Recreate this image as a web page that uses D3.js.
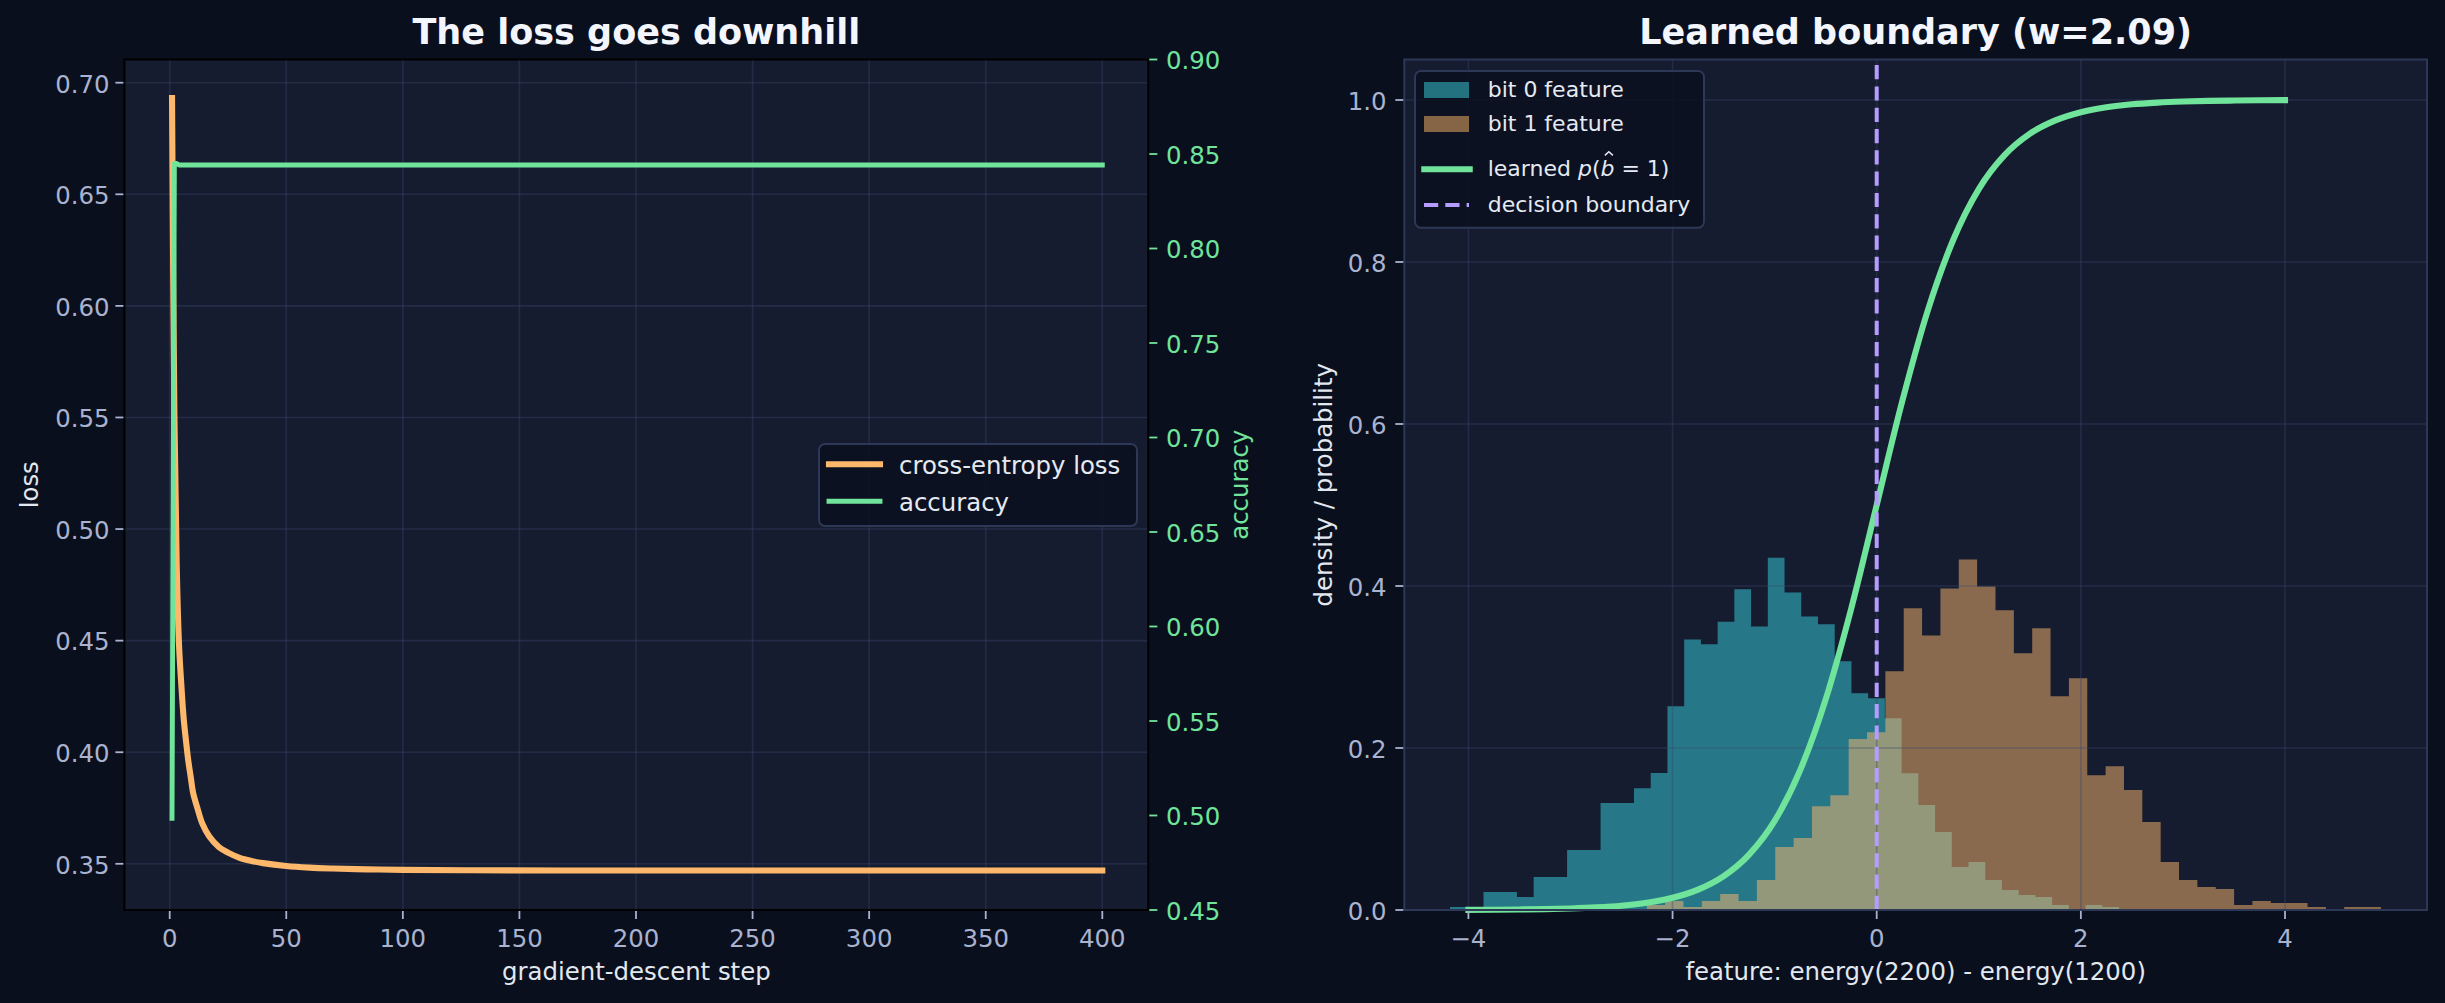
<!DOCTYPE html>
<html><head><meta charset="utf-8">
<script src="https://cdn.jsdelivr.net/npm/d3@7"></script>
<style>
html,body{margin:0;padding:0;background:#0a0f1e;}
svg{display:block;font-family:"DejaVu Sans",sans-serif;}
</style></head><body>
<svg id="chart" width="2445" height="1003"></svg>
<script>
// ---------------- data ----------------
const lossSteps  = [1,2,3,4,5,6,7,8,9,10,12,14,17,21,25,30,35,40,50,60,70,85,100,130,170,220,300,400];
const lossValues = [0.6931,0.552,0.484,0.448,0.430,0.415,0.405,0.396,0.389,0.382,0.3745,0.3680,0.3622,0.3576,0.3550,0.3527,0.3513,0.3503,0.3490,0.3483,0.3479,0.3475,0.3473,0.3471,0.3470,0.3470,0.3470,0.3470];
const accSteps  = [1,2,3,4,400];
const accValues = [0.4985,0.8450,0.8450,0.8442,0.8442];
const stepTicks = [0,50,100,150,200,250,300,350,400];
const lossTicks = [0.35,0.40,0.45,0.50,0.55,0.60,0.65,0.70];
const accTicks  = [0.45,0.50,0.55,0.60,0.65,0.70,0.75,0.80,0.85,0.90];

const bit0Start = -4.18, bit0Width = 0.16385;
const bit0Density = [0.0037,0,0.0222,0.0222,0.016,0.0407,0.0407,0.074,0.074,0.132,
  0.132,0.1504,0.169,0.2515,0.334,0.328,0.356,0.396,0.350,0.435,
  0.392,0.3625,0.3527,0.307,0.2676,0.2614,0.2367,0.1689,0.1295,0.0962,
  0.053,0.0592,0.037,0.0247,0.0185,0.016,0.0062,0,0.0062,0.0037];
const bit1Start = -2.2525, bit1Width = 0.1798;
const bit1Density = [0.0062,0.0111,0.0037,0.0111,0.0197,0.0111,0.037,0.0777,0.0888,0.128,
  0.1418,0.211,0.2195,0.2947,0.3724,0.339,0.397,0.4328,0.3995,0.37,
  0.3169,0.3477,0.2639,0.286,0.1665,0.1776,0.148,0.1085,0.0592,0.037,
  0.0284,0.0259,0.0062,0.0111,0.0086,0.0086,0.0037,0,0.0037,0.0037];
const sigmoidX = [-4,-3.75,-3.5,-3.25,-3,-2.75,-2.5,-2.25,-2,-1.75,-1.5,-1.25,-1,-0.75,-0.5,-0.25,0,
  0.25,0.5,0.75,1,1.25,1.5,1.75,2,2.25,2.5,2.75,3,3.25,3.5,3.75,4];
const sigmoidP = [0.0002,0.0004,0.0007,0.0011,0.0019,0.0032,0.0053,0.0090,0.0151,0.0252,0.0417,0.0684,0.110,0.1726,0.260,0.372,0.5,
  0.628,0.740,0.8274,0.890,0.9316,0.9583,0.9748,0.9849,0.9910,0.9947,0.9968,0.9981,0.9989,0.9993,0.9996,0.9998];
const boundaryX = 0;
const featureTicks = [-4,-2,0,2,4];
const densityTicks = [0,0.2,0.4,0.6,0.8,1.0];

// ---------------- style ----------------
const C = {
  fig:"#0a0f1e", ax:"#151c30", grid:"rgba(58,72,108,0.38)", tick:"#a9b3cf", label:"#e2e8f0",
  title:"#f3f6fc", loss:"#fdb86c", acc:"#70e49a", teal:"#38d4e0", brown:"#ffb86c",
  purple:"#b59cff", legBg:"#0a0f1e", legEdge:"#2d3856", spineR:"#2d3856"
};
const FS = 24.4, FSL = 22, FST = 35;

const svg = d3.select("#chart");
svg.append("rect").attr("width",2445).attr("height",1003).attr("fill",C.fig);

// ================= LEFT PANEL =================
const L = {x0:124.4, x1:1148.3, y0:59.5, y1:910};
const xL = d3.scaleLinear([-19.43, 419.73],[L.x0,L.x1]);
const yL = d3.scaleLinear([0.3293, 0.7104],[L.y1,L.y0]);
const yA = d3.scaleLinear([0.45, 0.90],[L.y1,L.y0]);

const gl = svg.append("g");
gl.append("rect").attr("x",L.x0).attr("y",L.y0).attr("width",L.x1-L.x0).attr("height",L.y1-L.y0).attr("fill",C.ax);
// grid
gl.selectAll(".vg").data(stepTicks).join("line")
  .attr("x1",d=>xL(d)).attr("x2",d=>xL(d)).attr("y1",L.y0).attr("y2",L.y1)
  .attr("stroke",C.grid).attr("stroke-width",1.6);
gl.selectAll(".hg").data(lossTicks).join("line")
  .attr("x1",L.x0).attr("x2",L.x1).attr("y1",d=>yL(d)).attr("y2",d=>yL(d))
  .attr("stroke",C.grid).attr("stroke-width",1.6);
// loss
const lossData = lossSteps.map((s,i)=>[s,lossValues[i]]);
gl.append("path").datum(lossData)
  .attr("d", d3.line().x(d=>xL(d[0])).y(d=>yL(d[1])).curve(d3.curveCatmullRom.alpha(0.5)))
  .attr("fill","none").attr("stroke",C.loss).attr("stroke-width",6.1)
  .attr("stroke-linecap","square").attr("stroke-linejoin","round");
// accuracy
const accData = accSteps.map((s,i)=>[s,accValues[i]]);
gl.append("path").datum(accData)
  .attr("d", d3.line().x(d=>xL(d[0])).y(d=>yA(d[1])))
  .attr("fill","none").attr("stroke",C.acc).attr("stroke-width",4.9)
  .attr("stroke-linecap","square").attr("stroke-linejoin","round");
// spines
gl.append("rect").attr("x",L.x0).attr("y",L.y0).attr("width",L.x1-L.x0).attr("height",L.y1-L.y0)
  .attr("fill","none").attr("stroke","#000").attr("stroke-width",2);
// x ticks
gl.selectAll(".xt").data(stepTicks).join("line")
  .attr("x1",d=>xL(d)).attr("x2",d=>xL(d)).attr("y1",L.y1+1).attr("y2",L.y1+9)
  .attr("stroke",C.tick).attr("stroke-width",1.8);
gl.selectAll(".xtl").data(stepTicks).join("text")
  .attr("x",d=>xL(d)).attr("y",947).attr("text-anchor","middle")
  .attr("font-size",FS).attr("fill",C.tick).text(d=>d);
// left y ticks
gl.selectAll(".yt").data(lossTicks).join("line")
  .attr("x1",L.x0-1).attr("x2",L.x0-9).attr("y1",d=>yL(d)).attr("y2",d=>yL(d))
  .attr("stroke",C.tick).attr("stroke-width",1.8);
gl.selectAll(".ytl").data(lossTicks).join("text")
  .attr("x",109.5).attr("y",d=>yL(d)+9.8).attr("text-anchor","end")
  .attr("font-size",FS).attr("fill",C.tick).text(d=>d3.format(".2f")(d));
// right y ticks
gl.selectAll(".at").data(accTicks).join("line")
  .attr("x1",L.x1+1).attr("x2",L.x1+9).attr("y1",d=>yA(d)).attr("y2",d=>yA(d))
  .attr("stroke",C.acc).attr("stroke-width",1.8);
gl.selectAll(".atl").data(accTicks).join("text")
  .attr("x",1166).attr("y",d=>yA(d)+9.8).attr("text-anchor","start")
  .attr("font-size",FS).attr("fill",C.acc).text(d=>d3.format(".2f")(d));
// labels
const cyL = (L.y0+L.y1)/2;
gl.append("text").attr("transform",`translate(38,${cyL}) rotate(-90)`).attr("text-anchor","middle")
  .attr("font-size",FS).attr("fill",C.label).text("loss");
gl.append("text").attr("transform",`translate(1248,${cyL}) rotate(-90)`).attr("text-anchor","middle")
  .attr("font-size",FS).attr("fill",C.acc).text("accuracy");
gl.append("text").attr("x",(L.x0+L.x1)/2).attr("y",980).attr("text-anchor","middle")
  .attr("font-size",FS).attr("fill",C.label).text("gradient-descent step");
gl.append("text").attr("x",(L.x0+L.x1)/2).attr("y",44.3).attr("text-anchor","middle")
  .attr("font-size",FST).attr("font-weight","bold").attr("fill",C.title).text("The loss goes downhill");
// legend
const lg = gl.append("g");
lg.append("rect").attr("x",819).attr("y",444).attr("width",318).attr("height",82).attr("rx",6)
  .attr("fill",C.legBg).attr("fill-opacity",0.85).attr("stroke",C.legEdge).attr("stroke-width",2);
[[C.loss,6.1,"cross-entropy loss",464.3],[C.acc,4.9,"accuracy",501.2]].forEach(r=>{
  lg.append("line").attr("x1",829).attr("x2",880).attr("y1",r[3]).attr("y2",r[3])
    .attr("stroke",r[0]).attr("stroke-width",r[1]).attr("stroke-linecap","square");
  lg.append("text").attr("x",899).attr("y",r[3]+10).attr("font-size",FS).attr("fill","#e5e9f2").text(r[2]);
});

// ================= RIGHT PANEL =================
const R = {x0:1404.3, x1:2427, y0:59.5, y1:910};
const xR = d3.scaleLinear([-4.628, 5.391],[R.x0,R.x1]);
const yR = d3.scaleLinear([0, 1.05],[R.y1,R.y0]);
const gr = svg.append("g");
gr.append("rect").attr("x",R.x0).attr("y",R.y0).attr("width",R.x1-R.x0).attr("height",R.y1-R.y0).attr("fill",C.ax);

function histPts(start,width,dens){
  const pts = dens.map((h,i)=>[start+i*width,h]);
  pts.push([start+dens.length*width, dens[dens.length-1]]);
  return pts;
}
const area = d3.area().x(d=>xR(d[0])).y0(yR(0)).y1(d=>yR(d[1])).curve(d3.curveStepAfter);
gr.append("path").datum(histPts(bit0Start,bit0Width,bit0Density)).attr("d",area)
  .attr("fill",C.teal).attr("fill-opacity",0.5);
gr.append("path").datum(histPts(bit1Start,bit1Width,bit1Density)).attr("d",area)
  .attr("fill",C.brown).attr("fill-opacity",0.5);
// grid (above patches, below lines)
gr.selectAll(".vg").data(featureTicks).join("line")
  .attr("x1",d=>xR(d)).attr("x2",d=>xR(d)).attr("y1",R.y0).attr("y2",R.y1)
  .attr("stroke",C.grid).attr("stroke-width",1.6);
gr.selectAll(".hg").data(densityTicks).join("line")
  .attr("x1",R.x0).attr("x2",R.x1).attr("y1",d=>yR(d)).attr("y2",d=>yR(d))
  .attr("stroke",C.grid).attr("stroke-width",1.6);
// sigmoid
const sigData = sigmoidX.map((x,i)=>[x,sigmoidP[i]]);
gr.append("path").datum(sigData)
  .attr("d", d3.line().x(d=>xR(d[0])).y(d=>yR(d[1])).curve(d3.curveMonotoneX))
  .attr("fill","none").attr("stroke",C.acc).attr("stroke-width",6.1)
  .attr("stroke-linecap","square").attr("stroke-linejoin","round");
// boundary
gr.append("line").attr("x1",xR(boundaryX)).attr("x2",xR(boundaryX)).attr("y1",R.y1).attr("y2",R.y0)
  .attr("stroke",C.purple).attr("stroke-width",4).attr("stroke-dasharray","14.2 7.1");
// spines
gr.append("rect").attr("x",R.x0).attr("y",R.y0).attr("width",R.x1-R.x0).attr("height",R.y1-R.y0)
  .attr("fill","none").attr("stroke",C.spineR).attr("stroke-width",2);
// ticks
gr.selectAll(".xt").data(featureTicks).join("line")
  .attr("x1",d=>xR(d)).attr("x2",d=>xR(d)).attr("y1",R.y1+1).attr("y2",R.y1+9)
  .attr("stroke",C.tick).attr("stroke-width",1.8);
gr.selectAll(".xtl").data(featureTicks).join("text")
  .attr("x",d=>xR(d)).attr("y",947).attr("text-anchor","middle")
  .attr("font-size",FS).attr("fill",C.tick).text(d=>d<0?"\u2212"+Math.abs(d):String(d));
gr.selectAll(".yt").data(densityTicks).join("line")
  .attr("x1",R.x0-1).attr("x2",R.x0-9).attr("y1",d=>yR(d)).attr("y2",d=>yR(d))
  .attr("stroke",C.tick).attr("stroke-width",1.8);
gr.selectAll(".ytl").data(densityTicks).join("text")
  .attr("x",1386.5).attr("y",d=>yR(d)+9.8).attr("text-anchor","end")
  .attr("font-size",FS).attr("fill",C.tick).text(d=>d3.format(".1f")(d));
// labels
gr.append("text").attr("transform",`translate(1332,${(R.y0+R.y1)/2}) rotate(-90)`).attr("text-anchor","middle")
  .attr("font-size",FS).attr("fill",C.label).text("density / probability");
gr.append("text").attr("x",(R.x0+R.x1)/2).attr("y",980).attr("text-anchor","middle")
  .attr("font-size",FS).attr("fill",C.label).text("feature: energy(2200) - energy(1200)");
gr.append("text").attr("x",(R.x0+R.x1)/2).attr("y",44.3).attr("text-anchor","middle")
  .attr("font-size",FST).attr("font-weight","bold").attr("fill",C.title).text("Learned boundary (w=2.09)");
// legend
const rg = gr.append("g");
rg.append("rect").attr("x",1415).attr("y",71).attr("width",289).attr("height",156.7).attr("rx",6)
  .attr("fill",C.legBg).attr("fill-opacity",0.85).attr("stroke",C.legEdge).attr("stroke-width",2);
rg.append("rect").attr("x",1424).attr("y",82).attr("width",45).attr("height",16).attr("fill",C.teal).attr("fill-opacity",0.5);
rg.append("rect").attr("x",1424).attr("y",116).attr("width",45).attr("height",16).attr("fill",C.brown).attr("fill-opacity",0.5);
rg.append("line").attr("x1",1424.3).attr("x2",1469.7).attr("y1",169.2).attr("y2",169.2)
  .attr("stroke",C.acc).attr("stroke-width",6.1).attr("stroke-linecap","square");
rg.append("line").attr("x1",1424).attr("x2",1469).attr("y1",205).attr("y2",205)
  .attr("stroke",C.purple).attr("stroke-width",4).attr("stroke-dasharray","14.2 7.1");
const TX = 1487.7, LC = "#e5e9f2";
rg.append("text").attr("x",TX).attr("y",97).attr("font-size",FSL).attr("fill",LC).text("bit 0 feature");
rg.append("text").attr("x",TX).attr("y",131).attr("font-size",FSL).attr("fill",LC).text("bit 1 feature");
const mt = rg.append("text").attr("x",TX).attr("y",176).attr("font-size",FSL).attr("fill",LC);
mt.append("tspan").text("learned ");
mt.append("tspan").attr("font-style","italic").text("p");
mt.append("tspan").text("(");
mt.append("tspan").attr("font-style","italic").text("b");
mt.append("tspan").text(" = 1)");
rg.append("text").attr("x",TX).attr("y",212).attr("font-size",FSL).attr("fill",LC).text("decision boundary");
// hat over b
try {
  const node = mt.node();
  const ext = node.getExtentOfChar(10);
  const cx = ext.x + ext.width*0.6, top = 151.8;
  rg.append("path").attr("d",`M${cx-4},${top+3.6}L${cx},${top}L${cx+4},${top+3.6}`)
    .attr("fill","none").attr("stroke",LC).attr("stroke-width",1.5);
} catch(e) {}
</script>
</body></html>
